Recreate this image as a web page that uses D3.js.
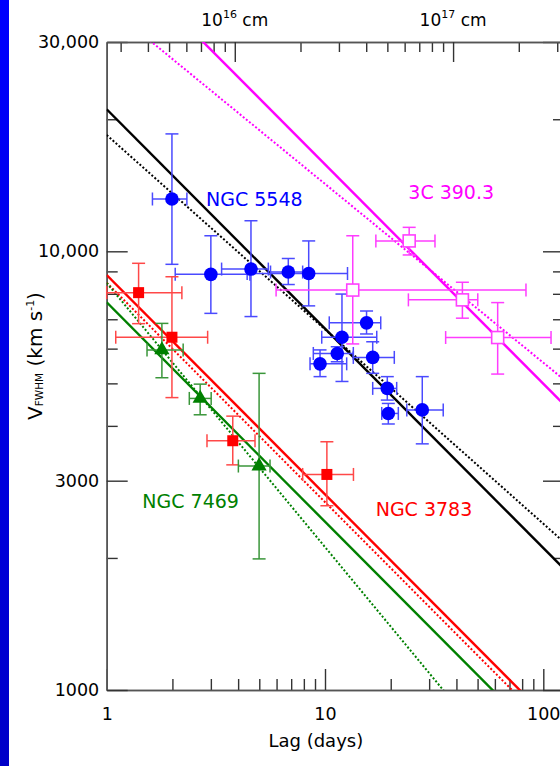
<!DOCTYPE html>
<html><head><meta charset="utf-8">
<script src="https://cdn.jsdelivr.net/npm/d3@7"></script>
<style>body{margin:0;background:#fff}svg{display:block}text{font-family:"DejaVu Sans",sans-serif}</style>
</head><body>
<svg id="c" width="560" height="766"></svg>
<script>
// ---------- data ----------
const ngc5548Lag   = [1.99, 3.00, 4.58, 6.79, 8.42, 15.5, 11.96, 11.38, 9.49, 16.54, 19.29, 19.50, 27.9];
const ngc5548LagLo = [1.62, 2.06, 3.36, 5.63, 4.40, 10.46, 9.66, 8.84, 8.54, 13.48, 16.54, 18.19, 23.7];
const ngc5548LagHi = [2.33, 4.53, 5.50, 7.90, 12.68, 18.0, 17.26, 13.48, 12.57, 20.77, 21.30, 21.67, 34.8];
const ngc5548V     = [13160, 8860, 9110, 8970, 8900, 6870, 6370, 5850, 5540, 5730, 4870, 4270, 4350];
const ngc5548VLo   = [9340, 7220, 7100, 8400, 7510, 6480, 5050, 5600, 5180, 5270, 4580, 4040, 3640];
const ngc5548VHi   = [18520, 10850, 11740, 9630, 10560, 7310, 7990, 6060, 5960, 6220, 5180, 4500, 5180];

const ngc3783Lag   = [1.40, 1.99, 3.78, 10.2];
const ngc3783LagLo = [1.0, 1.10, 2.88, 7.90];
const ngc3783LagHi = [2.21, 2.90, 4.78, 13.5];
const ngc3783V     = [8050, 6370, 3700, 3100];
const ngc3783VLo   = [6840, 4640, 3260, 2630];
const ngc3783VHi   = [9390, 8750, 4210, 3680];

const ngc7469Lag   = [1.79, 2.68, 4.99];
const ngc7469LagLo = [1.53, 2.39, 4.01];
const ngc7469LagHi = [2.24, 3.01, 5.60];
const ngc7469V     = [5960, 4620, 3240];
const ngc7469VLo   = [5150, 4240, 1990];
const ngc7469VHi   = [6850, 4980, 5270];

const c390Lag   = [24.3, 13.4, 42.6, 61.8];
const c390LagLo = [17.1, 5.97, 24.1, 35.7];
const c390LagHi = [31.9, 83.3, 50.1, 108.5];
const c390V     = [10560, 8160, 7750, 6360];
const c390VLo   = [9810, 6150, 7040, 5250];
const c390VHi   = [11340, 10850, 8500, 7640];

// fits: V = amp * lag^(-slope)
const fitNames    = ["NGC 5548", "NGC 3783", "NGC 7469", "3C 390.3"];
const solidAmp    = [21070, 8830, 7650, 49900];
const solidSlope  = [0.5, 0.5, 0.5, 0.5];
const dottedAmp   = [18410, 8480, 8470, 36400];
const dottedSlope = [0.443, 0.50, 0.602, 0.4075];

const xTickValues = [1, 10, 100];
const xTickLabels = ["1", "10", "100"];
const yTickValues = [1000, 3000, 10000, 30000];
const yTickLabels = ["1000", "3000", "10,000", "30,000"];
const topTickValues = [1e16, 1e17];
const topTickExp = ["16", "17"];
const lightDayCm = 2.59e15;

// ---------- layout ----------
const L = 106.7, R = 564, T = 42, B = 690;
const xMax = 124.4;
const x = d3.scaleLog().domain([1, xMax]).range([L, R]);
const y = d3.scaleLog().domain([1000, 30000]).range([B, T]);
const xcm = d3.scaleLog().domain([lightDayCm, xMax * lightDayCm]).range([L, R]);

const svg = d3.select("#c");
const defs = svg.append("defs");
const grad = defs.append("linearGradient").attr("id", "bar").attr("x1", 0).attr("y1", 0).attr("x2", 0).attr("y2", 1);
grad.append("stop").attr("offset", "0").attr("stop-color", "#0000ff");
grad.append("stop").attr("offset", "1").attr("stop-color", "#0000c8");
defs.append("clipPath").attr("id", "clip").append("rect").attr("x", L).attr("y", T).attr("width", R - L).attr("height", B - T);

svg.append("rect").attr("x", 0).attr("y", 0).attr("width", 9).attr("height", 766).attr("fill", "url(#bar)");

// minor ticks
const minorX = [];
[1, 10, 100].forEach(d => { for (let k = 2; k <= 9; k++) if (d * k <= xMax) minorX.push(d * k); });
const minorY = [2000, 4000, 5000, 6000, 7000, 8000, 9000, 20000];
const minorTop = [];
[1e15, 1e16, 1e17].forEach(d => { for (let k = 2; k <= 9; k++) { const v = d * k; if (v >= lightDayCm && v <= xMax * lightDayCm) minorTop.push(v); } });

function styleAxis(g) {
  g.selectAll(".domain").attr("stroke", "#555").attr("stroke-width", 1.6);
  g.selectAll(".tick line").attr("stroke", "#333").attr("stroke-width", 1.4);
  g.selectAll(".tick text").attr("fill", "#000").attr("font-family", "DejaVu Sans").attr("font-size", 17.5);
}
const axG = svg.append("g");
// bottom
axG.append("g").attr("transform", `translate(0,${B})`)
  .call(d3.axisBottom(x).tickValues(minorX).tickSize(-11).tickSizeOuter(0).tickFormat("")).call(styleAxis);
axG.append("g").attr("transform", `translate(0,${B})`)
  .call(d3.axisBottom(x).tickValues(xTickValues).tickSize(-21).tickSizeOuter(0).tickPadding(18)
    .tickFormat((d, i) => xTickLabels[i])).call(styleAxis);
// left
axG.append("g").attr("transform", `translate(${L},0)`)
  .call(d3.axisLeft(y).tickValues(minorY).tickSize(-11).tickSizeOuter(0).tickFormat("")).call(styleAxis);
axG.append("g").attr("transform", `translate(${L},0)`)
  .call(d3.axisLeft(y).tickValues(yTickValues).tickSize(-21).tickSizeOuter(0).tickPadding(7.5)
    .tickFormat((d, i) => yTickLabels[i])).call(styleAxis);
// right
axG.append("g").attr("transform", `translate(${R},0)`)
  .call(d3.axisRight(y).tickValues(minorY).tickSize(-11).tickSizeOuter(0).tickFormat("")).call(styleAxis);
axG.append("g").attr("transform", `translate(${R},0)`)
  .call(d3.axisRight(y).tickValues(yTickValues).tickSize(-21).tickSizeOuter(0).tickFormat("")).call(styleAxis);
// top (cm)
axG.append("g").attr("transform", `translate(0,${T})`)
  .call(d3.axisTop(xcm).tickValues(minorTop).tickSize(-10).tickSizeOuter(0).tickFormat("")).call(styleAxis);
axG.append("g").attr("transform", `translate(0,${T})`)
  .call(d3.axisTop(xcm).tickValues(topTickValues).tickSize(-20).tickSizeOuter(0).tickFormat("")).call(styleAxis);

topTickValues.forEach((v, i) => {
  const t = svg.append("text").attr("x", xcm(v)).attr("y", 26).attr("text-anchor", "middle")
    .attr("font-size", 17).attr("fill", "#000");
  t.append("tspan").text("10");
  t.append("tspan").attr("font-size", 11).attr("dy", -8).text(topTickExp[i]);
  t.append("tspan").attr("dy", 8).text(" cm");
});

// axis titles
svg.append("text").attr("x", (L + 545) / 2 - 10).attr("y", 746.5).attr("text-anchor", "middle")
  .attr("font-size", 18).attr("fill", "#000").text("Lag (days)");
const yl = svg.append("text").attr("transform", "translate(41.7,356) rotate(-90)").attr("text-anchor", "middle")
  .attr("font-size", 20).attr("fill", "#000");
yl.append("tspan").text("V");
yl.append("tspan").attr("font-size", 10.5).attr("dy", 1.5).text("FWHM");
yl.append("tspan").attr("dy", -1.5).text(" (km s");
yl.append("tspan").attr("font-size", 11).attr("dy", -8).text("-1");
yl.append("tspan").attr("dy", 8).text(")");

// ---------- fit lines ----------
const lineColors = ["#000000", "#ff0000", "#008000", "#ff00ff"];
const plot = svg.append("g").attr("clip-path", "url(#clip)");
const line = d3.line().x(d => x(d[0])).y(d => y(d[1]));
fitNames.forEach((n, i) => {
  const ends = [1, xMax];
  plot.append("path").attr("d", line(ends.map(l => [l, dottedAmp[i] * Math.pow(l, -dottedSlope[i])])))
    .attr("fill", "none").attr("stroke", lineColors[i]).attr("stroke-width", 2).attr("stroke-dasharray", "2,2");
  plot.append("path").attr("d", line(ends.map(l => [l, solidAmp[i] * Math.pow(l, -solidSlope[i])])))
    .attr("fill", "none").attr("stroke", lineColors[i]).attr("stroke-width", 2.4);
});

// ---------- error bars + markers ----------
function errBars(lag, lo, hi, v, vlo, vhi, color) {
  const g = svg.append("g").attr("stroke", color).attr("stroke-width", 1.5).attr("fill", "none");
  const cap = 6.5;
  lag.forEach((d, i) => {
    const cx = x(d), cy = y(v[i]);
    const y1 = y(vhi[i]), y2 = y(vlo[i]), x1 = x(lo[i]), x2 = x(hi[i]);
    g.append("line").attr("x1", cx).attr("x2", cx).attr("y1", y1).attr("y2", y2);
    g.append("line").attr("x1", cx - cap).attr("x2", cx + cap).attr("y1", y1).attr("y2", y1);
    g.append("line").attr("x1", cx - cap).attr("x2", cx + cap).attr("y1", y2).attr("y2", y2);
    g.append("line").attr("x1", x1).attr("x2", x2).attr("y1", cy).attr("y2", cy);
    g.append("line").attr("x1", x1).attr("x2", x1).attr("y1", cy - cap).attr("y2", cy + cap);
    g.append("line").attr("x1", x2).attr("x2", x2).attr("y1", cy - cap).attr("y2", cy + cap);
  });
}
errBars(ngc5548Lag, ngc5548LagLo, ngc5548LagHi, ngc5548V, ngc5548VLo, ngc5548VHi, "#4a4aff");
errBars(ngc3783Lag, ngc3783LagLo, ngc3783LagHi, ngc3783V, ngc3783VLo, ngc3783VHi, "#ff4848");
errBars(ngc7469Lag, ngc7469LagLo, ngc7469LagHi, ngc7469V, ngc7469VLo, ngc7469VHi, "#3a963a");
errBars(c390Lag, c390LagLo, c390LagHi, c390V, c390VLo, c390VHi, "#ff3cff");

svg.append("g").selectAll("circle").data(ngc5548Lag).join("circle")
  .attr("cx", d => x(d)).attr("cy", (d, i) => y(ngc5548V[i])).attr("r", 6.8).attr("fill", "#0000ff");
svg.append("g").selectAll("rect").data(ngc3783Lag).join("rect")
  .attr("x", d => x(d) - 5.5).attr("y", (d, i) => y(ngc3783V[i]) - 5.5).attr("width", 11).attr("height", 11).attr("fill", "#ff0000");
svg.append("g").selectAll("path").data(ngc7469Lag).join("path")
  .attr("d", d3.symbol(d3.symbolTriangle, 100))
  .attr("transform", (d, i) => `translate(${x(d)},${y(ngc7469V[i])})`).attr("fill", "#008000");
svg.append("g").selectAll("rect").data(c390Lag).join("rect")
  .attr("x", d => x(d) - 6).attr("y", (d, i) => y(c390V[i]) - 6).attr("width", 12).attr("height", 12)
  .attr("fill", "#fff").attr("stroke", "#ff40ff").attr("stroke-width", 1.6);

// ---------- labels ----------
const labelPos = [[206, 206], [375.7, 516], [142.3, 508.3], [408.3, 199]];
fitNames.forEach((n, i) => {
  svg.append("text").attr("x", labelPos[i][0]).attr("y", labelPos[i][1]).attr("font-size", 19)
    .attr("fill", i === 0 ? "#0000ff" : lineColors[i]).text(n);
});
</script>
</body></html>
